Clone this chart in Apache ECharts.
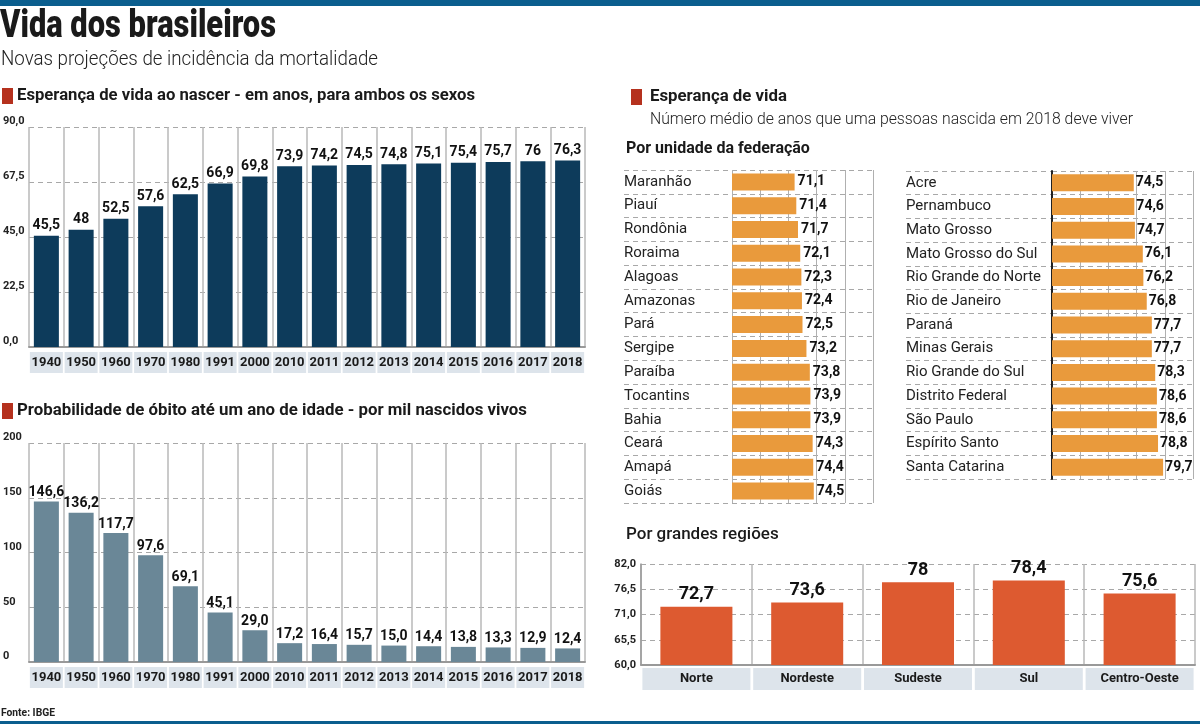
<!DOCTYPE html>
<html>
<head>
<meta charset="utf-8">
<script src="https://cdn.jsdelivr.net/npm/echarts@6/dist/echarts.min.js"></script>
<style>html,body{margin:0;padding:0;background:#fff;}#c{width:1200px;height:725px;}</style>
</head>
<body>
<div id="c"></div>
<script>
// ---- data ----
const years = ['1940','1950','1960','1970','1980','1991','2000','2010','2011','2012','2013','2014','2015','2016','2017','2018'];
const lifeExpectancy = [45.5,48,52.5,57.6,62.5,66.9,69.8,73.9,74.2,74.5,74.8,75.1,75.4,75.7,76,76.3];
const infantDeath = [146.6,136.2,117.7,97.6,69.1,45.1,29.0,17.2,16.4,15.7,15.0,14.4,13.8,13.3,12.9,12.4];
const statesA = ['Maranhão','Piauí','Rondônia','Roraima','Alagoas','Amazonas','Pará','Sergipe','Paraíba','Tocantins','Bahia','Ceará','Amapá','Goiás'];
const valuesA = [71.1,71.4,71.7,72.1,72.3,72.4,72.5,73.2,73.8,73.9,73.9,74.3,74.4,74.5];
const statesB = ['Acre','Pernambuco','Mato Grosso','Mato Grosso do Sul','Rio Grande do Norte','Rio de Janeiro','Paraná','Minas Gerais','Rio Grande do Sul','Distrito Federal','São Paulo','Espírito Santo','Santa Catarina'];
const valuesB = [74.5,74.6,74.7,76.1,76.2,76.8,77.7,77.7,78.3,78.6,78.6,78.8,79.7];
const regions = ['Norte','Nordeste','Sudeste','Sul','Centro-Oeste'];
const regionValues = [72.7,73.6,78,78.4,75.6];

// ---- style ----
const FONT = "Roboto,'DejaVu Sans Condensed',sans-serif";
const comma = v => String(v).replace('.', ',');
const comma1 = v => v.toFixed(1).replace('.', ',');
const BAND = '#dde4eb';
const GRIDC = '#a8a8a8';

// horizontal squeeze so that a text line spans a target width (condensed look)
const measureCtx = document.createElement('canvas').getContext('2d');
function fit(text, font, target) {
  measureCtx.font = font;
  const w = measureCtx.measureText(text).width;
  return w > 0 ? Math.min(1, target / w) : 1;
}
function txt(text, x, y, font, target, fill) {
  return {type: 'text', x, y, scaleX: fit(text, font, target),
    style: {text, font, fill: fill || '#1a1a1a', verticalAlign: 'middle', textVerticalAlign: 'middle'}};
}

function yearAxis(gridIndex) {
  return {
    type: 'category', gridIndex, data: years,
    axisLine: {show: true, lineStyle: {color: '#999', width: 2}},
    axisTick: {show: false},
    splitLine: {show: true, lineStyle: {color: '#b8b8b8', width: 1.5}},
    axisLabel: {interval: 0, margin: 5, backgroundColor: BAND, width: 33, height: 21, lineHeight: 21,
      align: 'center', fontFamily: FONT, fontWeight: 'bold', fontSize: 13, color: '#1a1a1a'}
  };
}
function valueAxisLeft(gridIndex, min, max, interval, fmt) {
  return {
    type: 'value', gridIndex, min, max, interval,
    axisLine: {show: false}, axisTick: {show: false},
    splitLine: {show: true, lineStyle: {color: GRIDC, type: [5, 4], width: 1}},
    axisLabel: {margin: 26, align: 'left', verticalAlign: 'bottom', lineHeight: 11,
      fontFamily: FONT, fontWeight: 'bold', fontSize: 11, color: '#222', formatter: fmt}
  };
}
function stateCatAxis(gridIndex, data, showLabels, margin, axisLineShow) {
  return {
    type: 'category', gridIndex, data, inverse: true,
    axisLine: {show: axisLineShow, lineStyle: {color: '#222', width: 2}},
    axisTick: {show: false},
    splitLine: {show: true, lineStyle: {color: GRIDC, type: [5, 4], width: 1}},
    axisLabel: {show: showLabels, margin, align: 'left', fontFamily: FONT, fontSize: 15, color: '#222'}
  };
}
function stateValAxis(gridIndex) {
  return {
    type: 'value', gridIndex, min: 60, max: 85, interval: 5,
    axisLine: {show: false}, axisTick: {show: false}, axisLabel: {show: false},
    splitLine: {show: true, lineStyle: {color: '#b0b0b0', width: 1}}
  };
}
function hiddenVal(gridIndex) {
  return {type: 'value', gridIndex, show: false, min: 0, max: 1, splitLine: {show: false}};
}

const option = {
  animation: false,
  backgroundColor: '#fff',
  grid: [
    {left: 26, top: 127, width: 559, height: 220},
    {left: 26, top: 443, width: 559, height: 219},
    {left: 732, top: 170, width: 141, height: 333},
    {left: 624, top: 170, width: 108, height: 333},
    {left: 1052, top: 171, width: 141, height: 308},
    {left: 906, top: 171, width: 146, height: 308},
    {left: 641, top: 564, width: 554, height: 101}
  ],
  xAxis: [
    yearAxis(0),
    yearAxis(1),
    stateValAxis(2),
    hiddenVal(3),
    stateValAxis(4),
    hiddenVal(5),
    {
      type: 'category', gridIndex: 6, data: regions,
      axisLine: {show: true, lineStyle: {color: '#999', width: 2}},
      axisTick: {show: false},
      splitLine: {show: true, lineStyle: {color: '#b8b8b8', width: 1.5}},
      axisLabel: {interval: 0, margin: 3, backgroundColor: BAND, width: 108, height: 22, lineHeight: 22,
        align: 'center', fontFamily: FONT, fontWeight: 'bold', fontSize: 13, color: '#1a1a1a'}
    }
  ],
  yAxis: [
    valueAxisLeft(0, 0, 90, 22.5, comma1),
    valueAxisLeft(1, 0, 200, 50, v => String(v)),
    stateCatAxis(2, statesA, true, 108, false),
    stateCatAxis(3, statesA, false, 0, false),
    stateCatAxis(4, statesB, true, 146, true),
    stateCatAxis(5, statesB, false, 0, false),
    {
      type: 'value', gridIndex: 6, min: 60, max: 82, interval: 5.5,
      axisLine: {show: true, lineStyle: {color: '#999', width: 1.5}}, axisTick: {show: false},
      splitLine: {show: true, lineStyle: {color: GRIDC, type: [5, 4], width: 1}},
      axisLabel: {margin: 5, align: 'right', fontFamily: FONT, fontWeight: 'bold', fontSize: 11, color: '#222', formatter: comma1}
    }
  ],
  series: [
    {type: 'bar', xAxisIndex: 0, yAxisIndex: 0, data: lifeExpectancy, barWidth: '72%',
      itemStyle: {color: '#0d3b5b'},
      label: {show: true, position: 'top', distance: 3, fontFamily: FONT, fontWeight: 'bold', fontSize: 14, color: '#111', formatter: p => comma(p.value)}},
    {type: 'bar', xAxisIndex: 1, yAxisIndex: 1, data: infantDeath, barWidth: '72%',
      itemStyle: {color: '#6a8797'},
      label: {show: true, position: 'top', distance: 2, fontFamily: FONT, fontWeight: 'bold', fontSize: 14, color: '#111', formatter: p => comma1(p.value)}},
    {type: 'bar', xAxisIndex: 2, yAxisIndex: 2, data: valuesA, barWidth: 17,
      itemStyle: {color: '#e99a3c'},
      label: {show: true, position: 'right', distance: 3, fontFamily: FONT, fontWeight: 'bold', fontSize: 14, color: '#111', formatter: p => comma1(p.value)}},
    {type: 'bar', xAxisIndex: 4, yAxisIndex: 4, data: valuesB, barWidth: 17,
      itemStyle: {color: '#e99a3c'},
      label: {show: true, position: 'right', distance: 2, fontFamily: FONT, fontWeight: 'bold', fontSize: 14, color: '#111', formatter: p => comma1(p.value)}},
    {type: 'bar', xAxisIndex: 6, yAxisIndex: 6, data: regionValues, barWidth: '65%',
      itemStyle: {color: '#dd5a30'},
      label: {show: true, position: 'top', distance: 3, fontFamily: FONT, fontWeight: 'bold', fontSize: 18, color: '#111', formatter: p => comma(p.value)}}
  ],
  graphic: [
    {type: 'rect', shape: {x: 0, y: 0, width: 1200, height: 6}, style: {fill: '#0b5e8e'}},
    {type: 'rect', shape: {x: 0, y: 721, width: 1200, height: 3}, style: {fill: '#0b5e8e'}},
    txt('Vida dos brasileiros', 0, 27, "900 38px " + FONT, 276),
    txt('Novas projeções de incidência da mortalidade', 1, 60, "300 21px " + FONT, 377, '#222'),
    {type: 'rect', shape: {x: 2, y: 88, width: 11, height: 16}, style: {fill: '#b5311e'}},
    txt('Esperança de vida ao nascer - em anos, para ambos os sexos', 17, 96, "bold 17px " + FONT, 458),
    {type: 'rect', shape: {x: 2, y: 403, width: 11, height: 16}, style: {fill: '#b5311e'}},
    txt('Probabilidade de óbito até um ano de idade - por mil nascidos vivos', 17, 411, "bold 17px " + FONT, 510),
    txt('Fonte: IBGE', 1, 713, "bold 11px " + FONT, 54, '#222'),
    {type: 'rect', shape: {x: 631, y: 89, width: 11, height: 16}, style: {fill: '#b5311e'}},
    txt('Esperança de vida', 650, 97, "bold 17px " + FONT, 137),
    txt('Número médio de anos que uma pessoas nascida em 2018 deve viver', 650, 120, "300 17px " + FONT, 483, '#222'),
    txt('Por unidade da federação', 626, 149, "bold 16px " + FONT, 185),
    txt('Por grandes regiões', 626, 535, "500 17px " + FONT, 158)
  ]
};
const chart = echarts.init(document.getElementById('c'), null, {renderer: 'canvas'});
chart.setOption(option);
</script>
</body>
</html>
